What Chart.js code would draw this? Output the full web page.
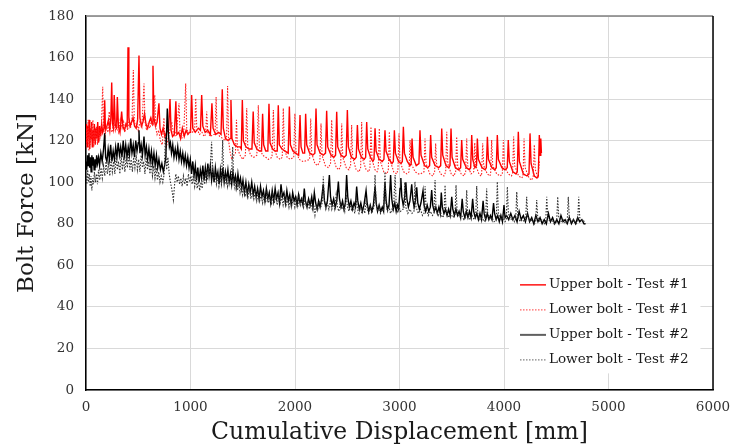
<!DOCTYPE html>
<html><head><meta charset="utf-8">
<script src="https://cdn.jsdelivr.net/npm/chart.js@4"></script>
<style>html,body{margin:0;padding:0;background:#fff;}#wrap{width:732px;height:448px;}</style>
</head><body><div id="wrap"><canvas id="c" width="732" height="448"></canvas></div>
<script>
const seriesLabels = ["Upper bolt - Test #1", "Lower bolt - Test #1", "Upper bolt - Test #2", "Lower bolt - Test #2"];
const xTickValues = [0, 1000, 2000, 3000, 4000, 5000, 6000];
const yTickValues = [0, 20, 40, 60, 80, 100, 120, 140, 160, 180];
const xTitle = "Cumulative Displacement [mm]";
const yTitle = "Bolt Force [kN]";

// [displacement mm, force kN]
const upper1 = [[0,119],[6,128],[12,117],[18,127],[24,121],[30,130],[36,116],[42,126],[48,121],[54,129],[60,117],[66,125],[72,120],[80,128],[88,118],[96,126],[104,121],[112,129],[120,119],[130,127],[140,122],[150,128],[160,124],[172,126],[179,139.5],[186,125],[200,127],[215,130],[228,125],[238,131],[246,148],[254,128],[262,126],[270,142],[280,127],[292,126],[300,141],[310,127],[325,124],[341,134],[352,127],[368,125],[382,128],[394,127],[402,165],[410,131],[422,127],[436,129],[450,131],[465,127],[480,126],[494,130],[507,161],[516,131],[530,127],[545,129],[560,133],[574,128],[590,126],[605,129],[620,131],[632,128],[641,156],[650,131],[665,127],[680,129],[698,138],[708,126],[722,123],[738,126],[755,122],[770,124],[790,125],[804,140],[814,125],[828,122],[845,123],[860,139],[870,123],[888,124],[905,121],[922,126],[940,122],[958,125],[975,123],[990,124],
[1000,124],[1011,142],[1022,126],[1045,124],[1075,126],[1095,125],[1107,142],[1118,127],[1140,124],[1165,125],[1190,123],[1205,138],[1216,126],[1240,123],[1270,124],[1292,123],[1304,144.7],[1314,126],[1335,121],[1360,120],[1378,121],[1387,139.6],[1397,121],[1420,118],[1450,117],[1475,117],[1486,116],[1496,139.6],[1506,120],[1530,117],[1560,116],[1588,116],[1600,134],[1610,119],[1635,116],[1660,115],[1680,115],[1690,133],[1700,118],[1720,115],[1740,115],[1751,137.7],[1761,119],[1785,116],[1810,115],[1830,115],[1840,137],[1850,118],[1875,116],[1905,115],[1935,114],[1946,136.4],[1956,118],[1980,115],[2005,114],[2035,113],
[2048,132.3],[2058,117],[2075,114],[2092,114],[2102,133],[2112,118],[2140,114],[2170,113],[2190,114],[2201,135.5],[2211,118],[2240,114],[2270,113],[2292,114],[2303,134.4],[2313,117],[2345,113],[2372,112],[2388,113],[2399,133.9],[2409,117],[2440,113],[2470,112],[2490,113],[2501,134.7],[2511,117],[2540,112],[2570,111],[2586,112],[2597,127.5],[2607,116],[2635,112],[2662,111],[2676,112],[2686,129],[2696,116],[2722,112],[2745,110],[2756,111],[2766,126],[2776,115],[2805,111],[2835,110],[2851,111],[2861,125],[2871,115],[2900,111],[2928,109],[2941,110],[2951,125],[2961,114],[2990,110],[3015,109],[3027,110],[3037,126.7],[3047,114],
[3075,110],[3100,108],[3112,109],[3120,121],[3130,112],[3160,108],[3186,109],[3196,125],[3206,113],[3240,108],[3270,107],[3288,108],[3298,122.7],[3308,112],[3340,108],[3375,107],[3394,108],[3404,125.9],[3414,113],[3445,108],[3470,107],[3483,108],[3493,125.9],[3503,112],[3535,107],[3565,106],[3585,107],[3595,120.3],[3605,111],[3640,107],[3668,106],[3681,107],[3691,122.7],[3701,111],[3722,107],[3737,108],[3745,121],[3755,111],[3790,107],[3820,106],[3831,107],[3841,121.9],[3851,111],[3885,107],[3912,106],[3926,107],[3936,122.7],[3946,111],[3980,107],[4010,106],[4031,107],[4041,120.3],[4051,110],
[4085,105],[4115,104],[4127,105],[4137,124.3],[4147,110],[4185,104],[4220,103],[4239,104],[4249,123.5],[4259,109],[4290,103],[4315,102],[4328,103],[4338,122.7],[4345,113],[4352,121],[4358,114]];

const lower1 = [[0,116],[7,126],[14,119],[21,130],[28,115],[35,124],[42,118],[50,127],[58,121],[66,130],[74,117],[82,125],[90,120],[100,127],[110,118],[120,126],[132,121],[145,124],[160,146],[168,125],[182,122],[196,127],[210,124],[222,134],[232,126],[250,124],[265,129],[280,125],[290,128],[312,124],[328,130],[345,126],[360,129],[372,124],[385,128],[398,125],[412,130],[425,126],[440,129],[453,154],[462,130],[475,126],[490,128],[500,125],[520,130],[535,127],[555,147.5],[565,129],[580,125],[595,128],[612,126],[625,130],[640,127],[658,142],[668,126],[680,123],[695,125],[712,120],[730,118],[746,131],[756,119],[770,117],[785,121],[800,124],[820,129],[835,124],[850,122],[870,126],[890,138],[900,124],[915,121],[935,123],[954,147.5],[964,126],[980,123],[995,125],
[1015,124],[1040,125],[1050,140.4],[1060,126],[1085,123],[1110,124],[1130,122],[1145,123],[1155,134],[1165,124],[1190,122],[1215,123],[1235,123],[1245,141],[1255,124],[1280,122],[1310,121],[1335,120],[1345,121],[1355,146.3],[1365,120],[1380,114],[1395,111],[1415,113],[1430,114],[1440,130],[1450,116],[1475,113],[1500,111],[1525,113],[1538,135.6],[1548,117],[1575,113],[1605,112],[1635,113],[1649,137],[1659,117],[1690,113],[1720,112],[1745,111],[1780,112],[1793,134.8],[1803,116],[1830,112],[1860,111],[1878,112],[1888,135.6],[1898,116],[1925,112],[1955,111],[1988,112],[1999,133],[2009,115],[2040,111],[2075,110],[2090,110],
[2140,111],[2150,130.7],[2160,114],[2190,109],[2215,108],[2238,110],[2249,128.3],[2259,113],[2290,108],[2320,107],[2340,109],[2351,130],[2361,113],[2395,107],[2420,106],[2437,108],[2447,128.3],[2457,112],[2490,107],[2515,106],[2532,108],[2542,127.5],[2552,112],[2585,106],[2612,105],[2628,107],[2638,129],[2648,111],[2680,106],[2705,105],[2717,107],[2727,126.7],[2737,111],[2765,106],[2785,105],[2797,107],[2807,125.9],[2817,110],[2850,105],[2880,104],[2893,106],[2903,124.3],[2913,110],[2945,105],[2972,104],[2985,106],[2995,123.5],[3005,110],
[3040,105],[3070,104],[3091,105],[3101,120.3],[3111,109],[3150,105],[3180,104],[3200,104],[3234,105],[3244,121],[3254,109],[3290,104],[3318,103],[3336,105],[3346,118.7],[3356,108],[3395,104],[3425,103],[3442,105],[3452,124.3],[3462,109],[3495,104],[3520,103],[3537,105],[3547,121.9],[3557,108],[3590,104],[3617,103],[3633,105],[3643,121],[3653,108],[3685,104],[3710,105],[3720,119],[3730,108],[3760,104],[3780,103],[3786,104],[3796,118.7],[3806,108],[3840,104],[3865,103],[3872,104],[3882,120.3],[3892,108],[3930,104],[3965,103],[3984,104],[3994,120.3],[4004,108],
[4040,104],[4070,103],[4082,104],[4092,122],[4102,108],[4140,103],[4170,102],[4182,103],[4192,121],[4202,107],[4240,102],[4265,101],[4280,103],[4290,118],[4300,106],[4325,102],[4340,110]];

const upper2 = [[0,110],[7,106],[14,113],[21,108],[28,114],[35,107],[42,112],[49,105],[56,113],[63,108],[70,112],[78,106],[86,111],[94,107],[102,113],[110,109],[120,112],[130,108],[142,114],[155,110],[168,116],[179,123.5],[188,112],[200,110],[212,116],[224,111],[236,118],[248,110],[260,115],[272,111],[284,117],[296,112],[308,119],[320,113],[332,117],[344,112],[356,120],[368,113],[380,118],[392,112],[404,117],[416,113],[428,121],[440,114],[452,118],[464,112],[476,120],[488,115],[500,119],[507,125],[516,114],[528,118],[540,113],[555,122],[566,113],[578,117],[590,111],[602,116],[614,110],[626,115],[638,109],[650,114],[662,108],[674,113],[686,107],[698,111],[712,106],[726,109],[740,105],[752,108],[764,112],[778,135.5],[788,124],[798,117],[808,119],[818,114],[830,118],[842,112],[854,116],[866,112],[878,117],[890,111],[902,115],[914,110],[926,114],[938,109],[950,113],[962,108],[974,112],[986,107],[998,111],
[1010,104],[1022,110],[1034,103],[1046,108],[1058,101],[1070,107],[1082,100],[1094,106],[1106,102],[1118,108],[1130,101],[1142,107],[1154,102],[1166,109],[1178,103],[1190,108],[1202,101],[1214,106],[1226,100],[1238,107],[1250,102],[1262,105],[1274,99],[1286,106],[1298,101],[1310,107],[1322,100],[1334,105],[1346,101],[1358,106],[1370,100],[1382,104],[1394,99],[1406,105],[1418,100],[1430,103],[1442,98],[1454,104],[1466,99],[1478,102],[1490,97],[1502,101],[1516,95],[1530,100],[1544,94],[1558,99],[1572,95],[1586,100],[1600,94],[1614,98],[1628,93],[1642,97],[1656,92],[1670,98],[1684,93],[1698,96],[1712,91],[1726,97],[1740,92],[1754,95],[1768,90],[1782,96],[1796,91],[1810,97],[1824,92],[1838,95],[1852,90],[1866,99],[1880,93],[1894,95],[1908,90],[1922,96],[1936,91],[1950,94],[1964,89],[1978,95],[1992,91],
[2006,93],[2020,89],[2034,94],[2048,90],[2062,92],[2076,89],[2089,97],[2100,91],[2115,88],[2130,92],[2145,89],[2160,93],[2172,88],[2185,95],[2198,90],[2212,87],[2226,91],[2240,88],[2255,92],[2270,99],[2282,91],[2296,88],[2310,91],[2329,103.5],[2340,93],[2355,89],[2370,92],[2385,88],[2400,91],[2415,100.3],[2426,92],[2440,88],[2455,91],[2468,87],[2482,90],[2494,103.5],[2505,93],[2520,88],[2535,91],[2550,87],[2565,90],[2578,88],[2590,97.9],[2601,91],[2615,87],[2630,90],[2645,86],[2660,89],[2680,96],[2691,90],[2705,86],[2720,89],[2735,86],[2750,89],[2766,98],[2777,90],[2790,86],[2805,89],[2820,86],[2835,88],[2848,86],[2861,100],[2872,91],[2885,87],[2900,89],[2915,103.5],[2926,92],[2940,87],[2955,90],[2968,86],[2980,89],[2992,87],
[3005,97],[3013,102],[3022,93],[3035,89],[3048,92],[3061,100],[3071,92],[3085,88],[3100,91],[3117,99],[3127,92],[3140,88],[3152,91],[3165,97.5],[3175,90],[3190,87],[3205,90],[3225,96],[3235,89],[3250,86],[3265,89],[3280,86],[3295,88],[3308,96.2],[3318,89],[3332,86],[3347,88],[3362,85],[3377,88],[3390,85],[3400,95],[3410,88],[3425,85],[3440,87],[3455,84],[3470,87],[3485,84],[3500,93],[3510,87],[3525,84],[3540,87],[3555,84],[3570,86],[3585,83],[3600,92],[3610,86],[3625,83],[3640,86],[3655,83],[3670,86],[3685,83],[3700,92],[3710,86],[3725,83],[3740,85],[3755,82],[3770,85],[3785,82],[3800,91],[3810,85],[3825,82],[3840,85],[3855,82],[3870,84],[3885,82],[3900,90],[3910,85],[3925,82],[3940,84],[3955,81],[3970,84],[3985,81],[4000,89],[4010,83],
[4025,84],[4045,82],[4065,85],[4085,82],[4105,84],[4125,81],[4145,86],[4165,82],[4185,84],[4205,81],[4225,85],[4245,81],[4265,83],[4285,80],[4305,84],[4325,81],[4345,83],[4365,80],[4385,82],[4405,80],[4425,85],[4445,81],[4465,83],[4485,80],[4505,82],[4525,80],[4545,84],[4565,81],[4585,82],[4605,80],[4625,83],[4645,80],[4665,82],[4685,80],[4705,83],[4725,81],[4745,82],[4765,80],[4780,80]];

const lower2 = [[0,103],[8,99],[16,106],[24,100],[32,104],[40,98],[48,103],[56,96],[64,102],[72,99],[80,105],[90,100],[100,104],[110,99],[120,106],[132,101],[144,107],[156,102],[168,108],[180,103],[192,110],[204,104],[216,109],[228,103],[240,111],[252,105],[264,110],[276,104],[288,112],[300,106],[312,110],[324,104],[336,113],[348,106],[360,111],[372,105],[384,112],[396,107],[408,114],[420,106],[432,111],[444,105],[456,112],[468,107],[480,113],[492,106],[504,111],[516,105],[528,113],[540,107],[552,110],[564,104],[576,112],[588,106],[600,110],[612,104],[624,109],[636,103],[648,108],[660,102],[672,107],[684,101],[696,105],[708,100],[720,103],[735,100],[748,104],[760,122],[772,106],[784,112],[796,104],[808,100],[820,97],[836,91.5],[848,99],[860,104],[872,100],[884,103],[896,99],[908,102],[920,98],[932,103],[944,99],[956,102],[968,98],[980,104],[992,100],
[1004,103],[1016,99],[1028,104],[1040,98],[1052,102],[1064,97],[1076,101],[1088,96],[1100,100],[1112,97],[1124,103],[1136,99],[1148,105],[1160,101],[1172,107],[1184,103],[1202,119.5],[1212,104],[1224,100],[1236,104],[1248,99],[1260,103],[1272,98],[1284,102],[1296,99],[1308,120.3],[1318,103],[1330,99],[1342,103],[1354,98],[1366,102],[1378,99],[1390,101],[1404,117],[1414,100],[1426,97],[1438,101],[1450,96],[1462,100],[1474,95],[1486,99],[1498,94],[1510,98],[1522,93],[1536,97],[1550,93],[1564,97],[1578,92],[1592,96],[1606,92],[1620,96],[1634,91],[1648,95],[1662,91],[1676,94],[1690,90],[1704,94],[1718,90],[1732,95],[1746,90],[1760,93],[1774,89],[1788,94],[1802,90],[1816,93],[1830,89],[1844,94],[1858,90],[1872,93],[1886,89],[1900,94],[1914,89],[1928,92],[1942,88],[1956,93],[1970,89],[1984,92],[1998,88],
[2012,92],[2026,88],[2040,93],[2054,89],[2068,92],[2082,88],[2096,92],[2110,88],[2124,91],[2138,87],[2152,91],[2166,87],[2180,89],[2191,84.2],[2204,89],[2218,87],[2232,91],[2246,88],[2260,90],[2271,102.7],[2281,91],[2295,87],[2310,90],[2324,87],[2338,91],[2352,87],[2366,90],[2380,87],[2394,94],[2406,88],[2420,86],[2434,90],[2448,87],[2462,89],[2476,86],[2490,94],[2502,88],[2516,86],[2530,89],[2544,86],[2558,88],[2572,85],[2586,92],[2598,87],[2612,85],[2626,88],[2640,85],[2654,88],[2668,85],[2680,91],[2692,87],[2706,85],[2720,88],[2734,85],[2748,87],[2756,88],[2766,103.5],[2776,90],[2790,86],[2804,88],[2818,85],[2832,87],[2846,86],[2861,105],[2871,90],[2885,86],[2900,88],[2914,85],[2928,87],[2942,86],[2958,103.5],[2968,90],[2982,86],[2996,88],
[3010,86],[3030,87],[3042,87],[3050,100],[3060,88],[3080,85],[3100,87],[3120,85],[3138,86],[3148,100.2],[3158,88],[3180,85],[3200,87],[3220,84],[3235,85],[3245,98],[3255,87],[3275,84],[3295,86],[3315,84],[3330,85],[3340,101],[3350,87],[3370,84],[3390,86],[3410,83],[3426,84],[3436,98.6],[3446,86],[3470,83],[3490,85],[3510,83],[3531,84],[3541,98.6],[3551,86],[3575,83],[3595,84],[3615,82],[3633,83],[3643,96.2],[3653,85],[3675,82],[3695,84],[3715,82],[3729,83],[3739,98.2],[3749,85],[3770,82],[3790,83],[3810,81],[3824,82],[3834,97],[3844,85],[3865,82],[3885,83],[3905,81],[3926,82],[3936,100.2],[3946,85],[3970,82],[3990,83],[4010,81],[4022,82],[4032,97.8],[4042,85],[4065,82],[4085,83],[4100,81],[4112,82],[4122,95.4],[4132,84],[4155,81],[4175,82],[4195,81],[4207,82],[4217,93],[4227,84],[4250,81],[4270,82],[4290,80],[4303,81],[4313,91.4],[4323,83],[4345,81],[4365,82],[4385,80],[4399,81],[4409,93],[4419,83],[4440,81],[4460,82],[4480,80],[4504,81],[4514,93],[4524,83],[4545,81],[4565,82],[4590,80],[4605,81],[4615,93],[4625,83],[4645,81],[4665,82],[4690,80],[4705,81],[4715,93],[4725,83],[4745,81],[4760,82],[4770,80],[4778,80]];

const FONT = "'DejaVu Serif', 'Liberation Serif', serif";
const toPts = arr => arr.map(p => ({x: p[0], y: p[1]}));

const frameLines = {
  id: 'frameLines',
  afterDatasetsDraw(chart) {
    const {ctx, chartArea: a} = chart;
    ctx.save();
    ctx.lineWidth = 1.5;
    ctx.strokeStyle = '#7f7f7f';
    ctx.beginPath(); ctx.moveTo(a.left, a.top); ctx.lineTo(a.right, a.top); ctx.stroke();
    ctx.strokeStyle = '#000';
    ctx.beginPath(); ctx.moveTo(a.right, a.top); ctx.lineTo(a.right, a.bottom); ctx.stroke();
    ctx.restore();
  }
};

const boxLegend = {
  id: 'boxLegend',
  afterDraw(chart) {
    const {ctx} = chart;
    const xs = chart.scales.x, ys = chart.scales.y;
    const bx = xs.getPixelForValue(4048), bw = xs.getPixelForValue(5880) - bx;
    const by = ys.getPixelForValue(59.5), bh = ys.getPixelForValue(8) - by;
    ctx.save();
    ctx.fillStyle = '#fff';
    ctx.fillRect(bx, by, bw, bh);
    ctx.font = "13.5px " + FONT;
    ctx.textBaseline = 'middle';
    ctx.textAlign = 'left';
    chart.data.datasets.forEach((ds, i) => {
      const yy = by + 18.5 + i * 25;
      ctx.strokeStyle = ds.legendColor || ds.borderColor;
      ctx.lineWidth = ds.legendWidth || ds.borderWidth;
      ctx.setLineDash(ds.borderDash || []);
      ctx.beginPath(); ctx.moveTo(bx + 11, yy); ctx.lineTo(bx + 37, yy); ctx.stroke();
      ctx.setLineDash([]);
      ctx.fillStyle = '#1a1a1a';
      ctx.fillText(ds.label, bx + 40, yy);
    });
    ctx.restore();
  }
};

new Chart(document.getElementById('c'), {
  type: 'line',
  data: {
    datasets: [
      {label: seriesLabels[0], data: toPts(upper1), borderColor: '#ff0000', borderWidth: 1.4, order: 3},
      {label: seriesLabels[1], data: toPts(lower1), borderColor: '#ff2020', borderWidth: 1.1, borderDash: [1.5, 1.5], order: 2, legendColor: '#ff6060'},
      {label: seriesLabels[2], data: toPts(upper2), borderColor: '#000000', borderWidth: 1.4, order: 1, legendColor: '#606060', legendWidth: 2},
      {label: seriesLabels[3], data: toPts(lower2), borderColor: '#303030', borderWidth: 1.1, borderDash: [1.5, 1.5], order: 0, legendColor: '#808080'}
    ]
  },
  options: {
    responsive: false,
    animation: false,
    layout: {padding: {top: 16, right: 19, left: 0, bottom: 0}},
    elements: {point: {radius: 0}, line: {tension: 0, borderJoinStyle: 'miter'}},
    plugins: {legend: {display: false}, tooltip: {enabled: false}},
    scales: {
      x: {
        type: 'linear', min: 0, max: 6000,
        afterBuildTicks(s) { s.ticks = xTickValues.map(v => ({value: v})); },
        ticks: {font: {family: FONT, size: 13.5}, color: '#333', padding: 9, maxRotation: 0, callback: v => String(v)},
        grid: {color: '#d9d9d9', lineWidth: 1, drawTicks: false},
        border: {color: '#000', width: 1.5},
        title: {display: true, text: xTitle, font: {family: FONT, size: 23.5}, color: '#1a1a1a', padding: {top: 0, bottom: 1}},
        afterFit(s) { s.height = 58; s.paddingLeft = 0; s.paddingRight = 0; }
      },
      y: {
        type: 'linear', min: 0, max: 180,
        afterBuildTicks(s) { s.ticks = yTickValues.map(v => ({value: v})); },
        ticks: {font: {family: FONT, size: 13.5}, color: '#333', padding: 12, callback: v => String(v)},
        grid: {color: '#d9d9d9', lineWidth: 1, drawTicks: false},
        border: {color: '#000', width: 1.5},
        title: {display: true, text: yTitle, font: {family: FONT, size: 23}, color: '#1a1a1a', padding: {top: 13, bottom: 0}},
        afterFit(s) { s.width = 86; s.paddingTop = 0; s.paddingBottom = 0; }
      }
    }
  },
  plugins: [frameLines, boxLegend]
});
</script>
</body></html>
